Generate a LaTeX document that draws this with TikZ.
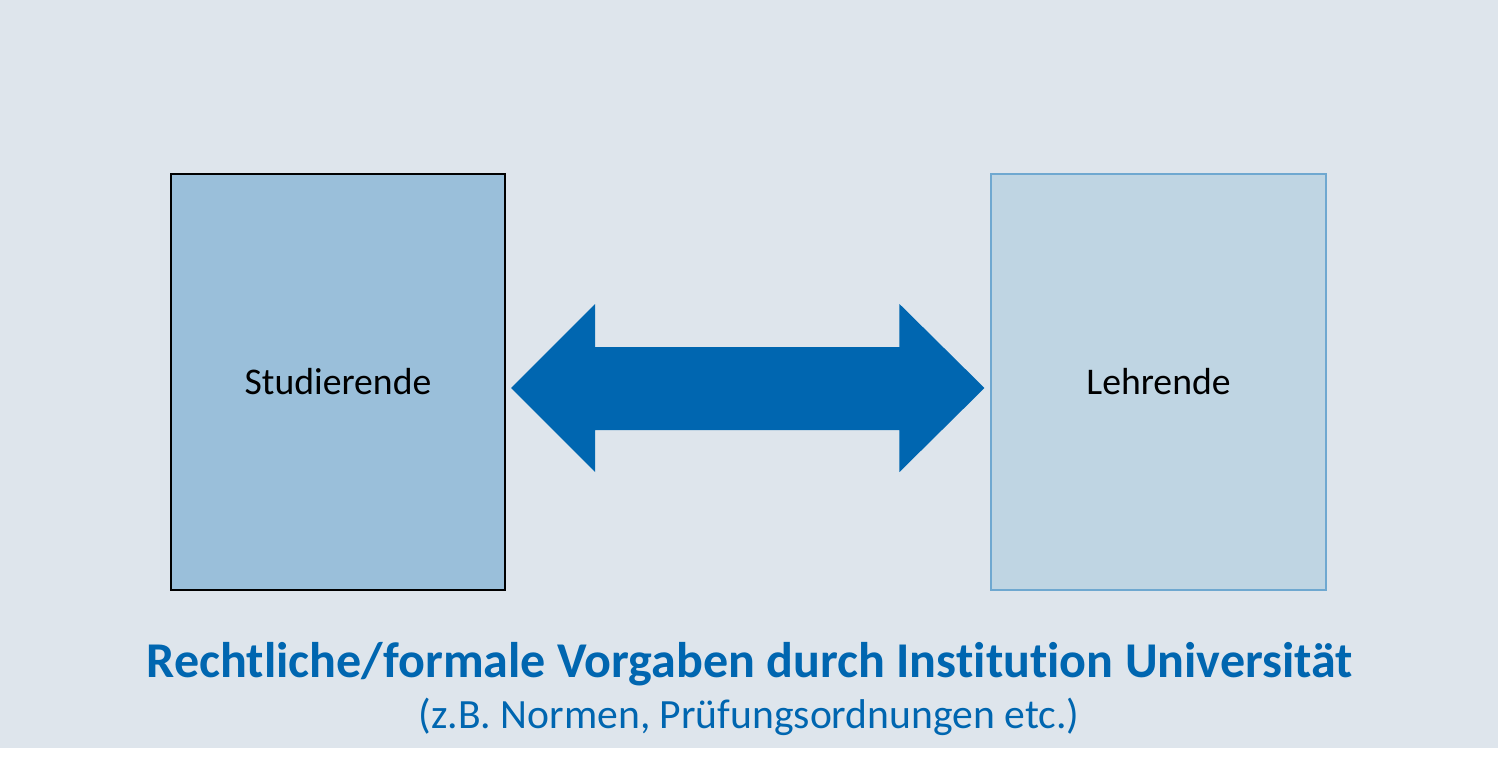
\documentclass[tikz,border=0pt]{standalone}
\usepackage{fontspec}
\setmainfont{Carlito}[Ligatures=NoCommon]
\usetikzlibrary{positioning}
\usetikzlibrary{calc}
\definecolor{bgC}{HTML}{DEE5EC}
\definecolor{studC}{HTML}{9ABFDA}
\definecolor{lehrC}{HTML}{BFD5E3}
\definecolor{lehrD}{HTML}{6FA8D0}
\definecolor{arrC}{HTML}{0066B0}
\tikzstyle{studbox}=[draw=black, line width=1.4pt, fill=studC, shape=rectangle, minimum width=8.35cm, minimum height=10.4cm, inner sep=0pt, font=\fontsize{26.8}{30}\selectfont]
\tikzstyle{lehrbox}=[draw=lehrD, line width=1.4pt, fill=lehrC, shape=rectangle, minimum width=8.35cm, minimum height=10.4cm, inner sep=0pt, font=\fontsize{26.8}{30}\selectfont]
\tikzstyle{ttl}=[text=arrC, inner sep=0pt, anchor=base, font=\bfseries\fontsize{35.6}{40}\selectfont]
\tikzstyle{sub}=[text=arrC, inner sep=0pt, anchor=base, font=\fontsize{29.6}{34}\selectfont]
\def\studbox{\node[style=studbox]}
\def\lehrbox{\node[style=lehrbox]}

\begin{document}
\begin{tikzpicture}[x=0.025cm, y=-0.025cm]
      \useasboundingbox (0,0) rectangle (1498,765);
      \fill[bgC] (0,0) rectangle (1498,748);
      % boxes
      \studbox (stud) at (338,382)       {Studierende};
      \lehrbox (lehr) at (1158.5,382)    {Lehrende};
      % arrow
      \coordinate (arrL) at ($(stud.east)+(5,6)$);
      \coordinate (arrR) at ($(lehr.west)+(-6,6)$);
      \fill[arrC] (arrL) -- ++(84,-84) -- ++(0,43) -- ($(arrR)+(-85,-41)$)
                  -- ++(0,-43) -- (arrR) -- ++(-85,84) -- ++(0,-42)
                  -- ($(arrL)+(84,42)$) -- ++(0,42) -- cycle;
      % caption
      \node[style=ttl] (rule) at (750,677) {Rechtliche/formale Vorgaben durch Institution Universität};
      \node[style=sub] (expl) at (749,728) {(z.B. Normen, Prüfungsordnungen etc.)};
\end{tikzpicture}
\end{document}
